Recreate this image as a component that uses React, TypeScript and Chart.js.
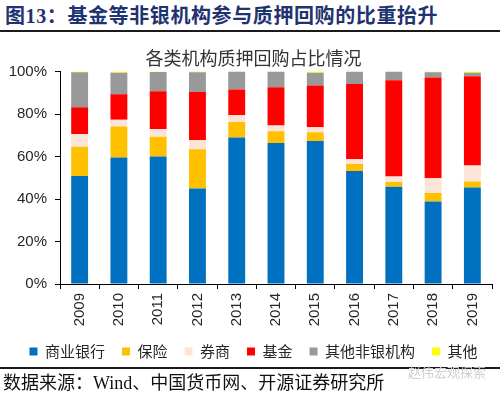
import React, { useEffect, useRef } from "react";
import { Chart, registerables } from "chart.js";

Chart.register(...registerables);

const years = ["2009", "2010", "2011", "2012", "2013", "2014", "2015", "2016", "2017", "2018", "2019"];
const banks = [50.9, 59.6, 60.0, 45.0, 69.0, 66.4, 67.3, 53.2, 45.8, 38.9, 45.4];
const insurance = [13.7, 14.5, 9.3, 18.5, 7.3, 5.5, 4.1, 3.3, 2.2, 3.9, 2.9];
const brokers = [6.0, 3.2, 3.7, 4.3, 3.2, 2.7, 2.4, 2.3, 2.6, 7.0, 7.5];
const funds = [12.6, 12.0, 17.8, 22.6, 12.1, 18.0, 19.7, 35.4, 45.3, 47.4, 42.0];
const otherNonBank = [16.5, 10.1, 9.0, 9.3, 8.4, 7.4, 5.9, 5.8, 4.1, 2.5, 1.6];
const others = [0.3, 0.6, 0.2, 0.3, 0.0, 0.0, 0.6, 0.0, 0.0, 0.3, 0.6];
const yTicks = [0, 20, 40, 60, 80, 100];

const seriesNames = ["商业银行", "保险", "券商", "基金", "其他非银机构", "其他"];
const seriesColors = ["#0070C0", "#FFC000", "#FCE4D6", "#FF0000", "#999999", "#FFFF00"];

const CJK = "'Noto Sans CJK SC', 'Noto Sans', sans-serif";
const LATIN = "'Liberation Sans', Arial, sans-serif";

export default function App() {
  const ref = useRef<HTMLCanvasElement | null>(null);

  useEffect(() => {
    if (!ref.current) return;
    const seriesValues = [banks, insurance, brokers, funds, otherNonBank, others];
    const chart = new Chart(ref.current, {
      type: "bar",
      data: {
        labels: years,
        datasets: seriesNames.map((name, i) => ({
          label: name,
          data: seriesValues[i],
          backgroundColor: seriesColors[i],
          borderWidth: 0,
          categoryPercentage: 1,
          barPercentage: 0.43,
          yAxisID: "y",
        })),
      },
      options: {
        responsive: false,
        animation: false,
        layout: { padding: { left: 7, right: 0, top: 0, bottom: 0 } },
        plugins: {
          tooltip: { enabled: false },
          title: {
            display: true,
            text: "各类机构质押回购占比情况",
            color: "#333333",
            font: { family: CJK, size: 18, weight: "normal" },
            padding: { top: 9, bottom: 3 },
          },
          legend: {
            position: "bottom",
            labels: {
              boxWidth: 8,
              boxHeight: 8,
              padding: 17,
              color: "#262626",
              font: { family: CJK, size: 15 },
            },
          },
        },
        scales: {
          x: {
            stacked: true,
            afterFit: (axis: any) => {
              axis.height = 43;
            },
            border: { display: true, color: "#000000", width: 1 },
            grid: {
              display: true,
              offset: true,
              drawOnChartArea: false,
              drawTicks: true,
              tickLength: 5,
              color: "#000000",
            },
            ticks: {
              color: "#262626",
              font: { family: LATIN, size: 15 },
              minRotation: 90,
              maxRotation: 90,
              padding: 4,
            },
          },
          y: {
            stacked: true,
            position: "left",
            min: 0,
            max: 100,
            afterFit: (axis: any) => {
              axis.width = 53;
            },
            afterBuildTicks: (axis: any) => {
              axis.ticks = yTicks.map((v) => ({ value: v }));
            },
            border: { display: true, color: "#000000", width: 1 },
            grid: {
              display: true,
              drawOnChartArea: false,
              drawTicks: true,
              tickLength: 5,
              color: "#000000",
            },
            ticks: {
              color: "#262626",
              font: { family: LATIN, size: 15 },
              padding: 8,
              callback: (v: any) => v + "%",
            },
          },
          yRight: {
            type: "linear",
            position: "right",
            display: true,
            min: 0,
            max: 100,
            grid: { display: false, drawTicks: false },
            border: { display: false },
            ticks: { display: false },
            afterFit: (axis: any) => {
              axis.width = 8;
            },
          },
        },
      },
    });
    return () => chart.destroy();
  }, []);

  return (
    <div
      style={{
        position: "fixed",
        left: 0,
        top: 0,
        width: 500,
        height: 396,
        background: "#ffffff",
        overflow: "hidden",
      }}
    >
      <div
        style={{
          position: "absolute",
          left: 5,
          top: 1,
          fontFamily: CJK,
          fontSize: 20,
          fontWeight: "bold",
          color: "#1F3370",
          whiteSpace: "nowrap",
          lineHeight: "28px",
          letterSpacing: "0.6px",
        }}
      >
        图<span style={{ fontFamily: "'Liberation Serif', serif" }}>13</span>：基金等非银机构参与质押回购的比重抬升
      </div>
      <div style={{ position: "absolute", left: 0, top: 30, width: 500, height: 2, background: "#1a1a1a" }} />
      <canvas
        ref={ref}
        width={500}
        height={331}
        style={{ position: "absolute", left: 0, top: 38, width: 500, height: 331 }}
      />
      <div style={{ position: "absolute", left: 0, top: 367, width: 500, height: 2, background: "#1a1a1a" }} />
      <div
        style={{
          position: "absolute",
          left: 408,
          top: 362,
          fontFamily: CJK,
          fontSize: 13,
          color: "#cfcfcf",
          whiteSpace: "nowrap",
        }}
      >
        赵伟宏观探索
      </div>
      <div
        style={{
          position: "absolute",
          left: 3,
          top: 370,
          fontFamily: "'Liberation Serif', 'Noto Sans CJK SC', serif",
          fontSize: 18,
          color: "#111111",
          whiteSpace: "nowrap",
          lineHeight: "26px",
        }}
      >
        数据来源：Wind、中国货币网、开源证券研究所
      </div>
    </div>
  );
}
